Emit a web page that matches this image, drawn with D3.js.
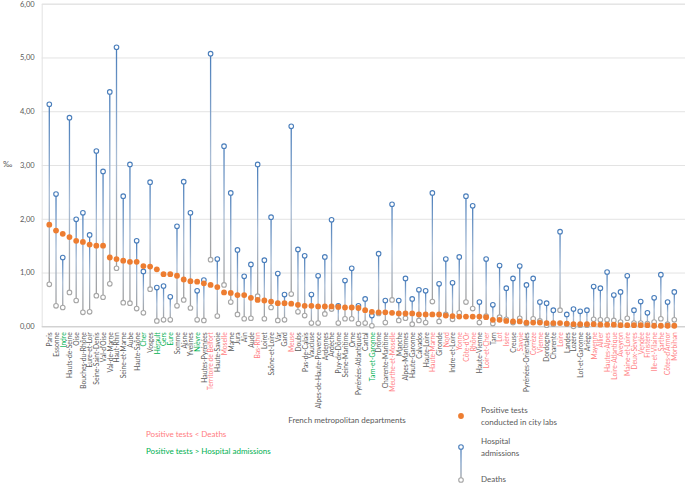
<!DOCTYPE html>
<html><head><meta charset="utf-8">
<script src="https://cdn.jsdelivr.net/npm/d3@7"></script>
<style>body{margin:0;background:#fff}svg{display:block;font-family:Lato,"Open Sans",sans-serif}</style>
</head><body><svg id="c" width="685" height="484"></svg>
<script>
const departments = ["Paris","Essonne","Indre","Hauts-de-Seine","Oise","Bouches-du-Rhône","Eure-et-Loir","Seine-Saint-Denis","Val-d'Oise","Val-de-Marne","Haut-Rhin","Seine-et-Marne","Aube","Haute-Saône","Cher","Vosges","Hérault","Gers","Eure","Somme","Aisne","Yvelines","Nièvre","Hautes-Pyrénées","Territoire de Belfort","Haute-Savoie","Moselle","Marne","Jura","Ain","Aude","Bas-Rhin","Loiret","Saône-et-Loire","Var","Gard","Meuse","Doubs","Pas-de-Calais","Vaucluse","Alpes-de-Haute-Provence","Ardennes","Ardèche","Puy-de-Dôme","Seine-Maritime","Orne","Pyrénées-Atlantiques","Cantal","Tarn-et-Garonne","Drôme","Charente-Maritime","Meurthe-et-Moselle","Manche","Alpes-Maritimes","Haute-Garonne","Calvados","Haute-Loire","Haute-Marne","Gironde","Nord","Indre-et-Loire","Yonne","Côte-d'Or","Rhône","Haute-Vienne","Loir-et-Cher","Tarn","Lot","Isère","Creuse","Savoie","Pyrénées-Orientales","Corrèze","Vienne","Dordogne","Charente","Loire","Landes","Lozère","Lot-et-Garonne","Ariège","Mayenne","Allier","Hautes-Alpes","Loire-Atlantique","Aveyron","Maine-et-Loire","Deux-Sèvres","Vendée","Finistère","Ille-et-Vilaine","Sarthe","Côtes-d'Armor","Morbihan"];
const positiveTests = [1.89,1.78,1.72,1.66,1.59,1.57,1.52,1.50,1.50,1.28,1.25,1.22,1.20,1.20,1.12,1.11,1.06,0.97,0.97,0.94,0.87,0.84,0.83,0.80,0.77,0.73,0.63,0.62,0.58,0.58,0.53,0.49,0.48,0.46,0.43,0.43,0.42,0.40,0.38,0.38,0.37,0.37,0.37,0.36,0.35,0.35,0.34,0.30,0.27,0.26,0.26,0.25,0.24,0.24,0.24,0.22,0.22,0.22,0.22,0.20,0.19,0.18,0.18,0.18,0.18,0.17,0.12,0.12,0.10,0.09,0.09,0.07,0.07,0.07,0.06,0.06,0.06,0.05,0.04,0.04,0.04,0.04,0.03,0.03,0.03,0.02,0.02,0.02,0.02,0.02,0.01,0.01,0.01,0.01];
const hospitalAdmissions = [4.13,2.46,1.28,3.88,1.99,2.11,1.70,3.26,2.88,4.36,5.19,2.42,3.01,1.59,1.02,2.68,0.72,0.75,0.55,1.86,2.69,2.11,0.66,0.86,5.07,1.25,3.35,2.48,1.42,0.93,1.15,3.01,1.23,2.03,0.98,0.59,3.72,1.43,1.31,0.59,0.94,1.29,1.98,0.38,0.85,1.08,0.38,0.51,0.20,1.35,0.48,2.27,0.48,0.89,0.51,0.68,0.66,2.48,0.79,1.25,0.81,1.29,2.42,2.24,0.45,1.25,0.40,1.13,0.71,0.89,1.12,0.77,0.89,0.45,0.43,0.30,1.76,0.22,0.32,0.28,0.30,0.74,0.71,1.01,0.58,0.64,0.94,0.30,0.46,0.25,0.53,0.96,0.45,0.64];
const deaths = [0.78,0.38,0.35,0.63,0.48,0.26,0.27,0.57,0.54,0.79,1.08,0.44,0.43,0.33,0.25,0.69,0.10,0.12,0.12,0.38,0.49,0.34,0.12,0.11,1.24,0.19,0.77,0.45,0.22,0.14,0.15,0.56,0.14,0.35,0.11,0.12,0.60,0.27,0.20,0.06,0.06,0.23,0.32,0.06,0.14,0.14,0.05,0.06,0.01,0.24,0.07,0.49,0.11,0.15,0.04,0.11,0.07,0.46,0.09,0.22,0.13,0.25,0.45,0.33,0.07,0.19,0.05,0.17,0.13,0.07,0.15,0.05,0.14,0.10,0.02,0.04,0.30,0.04,0.00,0.02,0.02,0.13,0.12,0.12,0.11,0.08,0.15,0.06,0.06,0.05,0.08,0.14,0.04,0.12];
const yTicks = [0,1,2,3,4,5,6];
const yUnit = "‰";
const xTitle = "French metropolitan departments";
const noteLabels = ["Positive tests < Deaths","Positive tests > Hospital admissions"];
const legendLabels = [["Positive tests","conducted in city labs"],["Hospital","admissions"],["Deaths"]];

const W = 685, H = 484;
const svg = d3.select("#c");
const plotL = 41.7, plotR = 685;
const x = d3.scalePoint().domain(departments).range([49.3, 674.3]);
const y = d3.scaleLinear().domain([0, 6]).range([326.3, 3.7]);
const C = {blue:"#4a7ebb", grey:"#a6a6a6", orange:"#ed7d31", text:"#595959", red:"#ff7c80", green:"#00b050", grid:"#e3e3e3"};

// gridlines + y axis
const ya = svg.append("g").attr("transform", `translate(${plotL},0)`)
  .call(d3.axisLeft(y).tickValues(yTicks).tickSize(-(plotR - plotL)).tickPadding(7)
    .tickFormat(d => d3.format(".2f")(d).replace(".", ",")));
ya.select(".domain").attr("stroke", C.grid);
ya.selectAll(".tick line").attr("stroke", d => d === 0 ? "#c8c8c8" : C.grid).attr("stroke-width", 1);
ya.selectAll(".tick text").attr("fill", C.text).style("font-size", "7.5px").style("font-family", "Lato");

svg.append("text").attr("x", 3).attr("y", 167).attr("fill", C.text).style("font-size", "8px").text(yUnit);

// x axis labels
const labelColor = i => positiveTests[i] < deaths[i] ? C.red : (positiveTests[i] > hospitalAdmissions[i] ? C.green : C.text);
const xa = svg.append("g").attr("transform", `translate(0,${y(0)})`).call(d3.axisBottom(x).tickSize(0));
xa.select(".domain").remove();
xa.selectAll(".tick text")
  .attr("transform", "rotate(-90)").attr("x", -6).attr("y", 0).attr("dy", "0.35em")
  .style("text-anchor", "end").style("font-size", "6.7px").style("font-family", "Lato")
  .attr("fill", (d, i) => labelColor(i));

// gradients & lines
const defs = svg.append("defs");
departments.forEach((d, i) => {
  const g = defs.append("linearGradient").attr("id", "g" + i).attr("gradientUnits", "userSpaceOnUse")
    .attr("x1", 0).attr("x2", 0).attr("y1", y(hospitalAdmissions[i])).attr("y2", y(deaths[i]));
  g.append("stop").attr("offset", 0).attr("stop-color", "#4a7ebb");
  g.append("stop").attr("offset", 0.5).attr("stop-color", "#a9bcd4");
  g.append("stop").attr("offset", 1).attr("stop-color", "#a0a0a0");
});
svg.append("g").selectAll("line").data(departments).join("line")
  .attr("x1", d => x(d)).attr("x2", d => x(d))
  .attr("y1", (d, i) => y(hospitalAdmissions[i])).attr("y2", (d, i) => y(deaths[i]))
  .attr("stroke", (d, i) => `url(#g${i})`).attr("stroke-width", 1.3);

svg.append("g").selectAll("circle").data(departments).join("circle")
  .attr("cx", d => x(d)).attr("cy", (d, i) => y(deaths[i])).attr("r", 2.3)
  .attr("fill", "#fff").attr("stroke", C.grey).attr("stroke-width", 1.1);
svg.append("g").selectAll("circle").data(departments).join("circle")
  .attr("cx", d => x(d)).attr("cy", (d, i) => y(hospitalAdmissions[i])).attr("r", 2.3)
  .attr("fill", "#fff").attr("stroke", C.blue).attr("stroke-width", 1.1);
svg.append("g").selectAll("circle").data(departments).join("circle")
  .attr("cx", d => x(d)).attr("cy", (d, i) => y(positiveTests[i])).attr("r", 2.9)
  .attr("fill", C.orange);

// titles and notes
svg.append("text").attr("x", 347).attr("y", 423).attr("text-anchor", "middle").attr("fill", C.text)
  .style("font-size", "8px").text(xTitle);
svg.append("text").attr("x", 146).attr("y", 437).attr("fill", C.red).style("font-size", "8px").text(noteLabels[0]);
svg.append("text").attr("x", 146).attr("y", 454).attr("fill", C.green).style("font-size", "8px").text(noteLabels[1]);

// legend
const lg = svg.append("g");
const lgx = 461;
lg.append("circle").attr("cx", lgx).attr("cy", 416).attr("r", 2.9).attr("fill", C.orange);
const lgGrad = defs.append("linearGradient").attr("id", "lgg").attr("gradientUnits", "userSpaceOnUse")
  .attr("x1", 0).attr("x2", 0).attr("y1", 447).attr("y2", 480);
lgGrad.append("stop").attr("offset", 0).attr("stop-color", "#4a7ebb");
lgGrad.append("stop").attr("offset", 0.5).attr("stop-color", "#7f9fc6");
lgGrad.append("stop").attr("offset", 1).attr("stop-color", "#a0a0a0");
lg.append("line").attr("x1", lgx).attr("x2", lgx).attr("y1", 447).attr("y2", 480).attr("stroke", "url(#lgg)").attr("stroke-width", 1.3);
lg.append("circle").attr("cx", lgx).attr("cy", 447).attr("r", 2.3).attr("fill", "#fff").attr("stroke", C.blue).attr("stroke-width", 1.1);
lg.append("circle").attr("cx", lgx).attr("cy", 480).attr("r", 2.3).attr("fill", "#fff").attr("stroke", C.grey).attr("stroke-width", 1.1);
const lgTextY = [[413, 425], [444, 456], [482]];
legendLabels.forEach((lines, k) => {
  lines.forEach((t, j) => {
    lg.append("text").attr("x", 481).attr("y", lgTextY[k][j]).attr("fill", C.text).style("font-size", "8px").text(t);
  });
});
</script>
</body></html>
